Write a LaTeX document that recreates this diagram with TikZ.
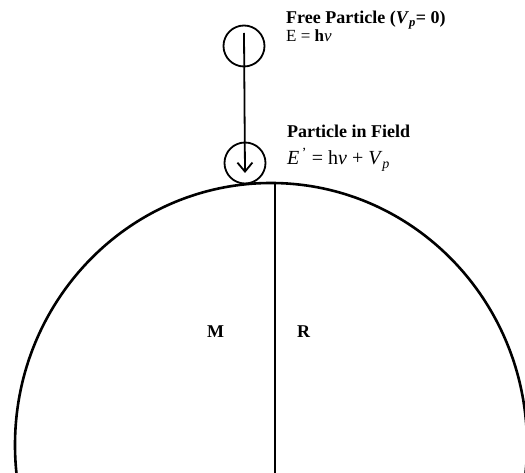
\documentclass[tikz,border=0pt]{standalone}
\usepackage{fontspec}
\setmainfont{Liberation Serif}
\usepackage{xcolor}
\usepackage{tikz}
\usetikzlibrary{arrows.meta, positioning, calc}
\definecolor{FieldInk}{RGB}{0, 0, 0}

\tikzset{
  particle/.style={circle, draw=FieldInk, line width=1.8pt, minimum size=41pt, inner sep=0pt},
  caption/.style={anchor=base west, inner sep=0pt, text=FieldInk},
  massline/.style={draw=FieldInk, line width=2.6pt}
}

\begin{document}
\begin{tikzpicture}[x=1pt, y=1pt]
    \useasboundingbox (0,0) rectangle (525,472);
    \clip (0,0) rectangle (525,472);

    % planet
    \draw[massline] (271,27) ellipse [x radius=256, y radius=262];
    \coordinate (surface) at (275,289);
    \coordinate (core) at (275,-5);
    \draw[FieldInk, line width=1.8pt] (surface) -- (core);

    % particles
    \node[particle] (free) at (244,426) {};
    \node[particle] (bound) at (245,309) {};
    \draw[FieldInk, line width=1.8pt, -{Straight Barb[length=9pt, width=15pt, line width=1.8pt]}]
      ($(free.center)+(0,13)$) -- ($(bound.center)+(0,-10)$);

    % labels
    \node[caption, font=\fontsize{18}{20}\selectfont\bfseries] (freetitle) at (286,448)
      {Free Particle (\textit{V}\textsubscript{\textit{p}}= 0)};
    \node[caption, font=\fontsize{17}{19}\selectfont] (freeeq) at (286,430)
      {E = \textbf{h}\textit{ν}};
    \node[caption, font=\fontsize{18}{20}\selectfont\bfseries] (fieldtitle) at (287,334)
      {Particle in Field};
    \node[caption, font=\fontsize{20}{22}\selectfont] (fieldeq) at (287,307)
      {\textit{E}\textsuperscript{\,'} = h\textit{ν} + \textit{V}\textsubscript{\textit{p}}};
    \node[caption, font=\fontsize{18}{20}\selectfont\bfseries] (mass) at (207,135) {M};
    \node[caption, font=\fontsize{18}{20}\selectfont\bfseries] (radius) at (297,135) {R};
\end{tikzpicture}
\end{document}
